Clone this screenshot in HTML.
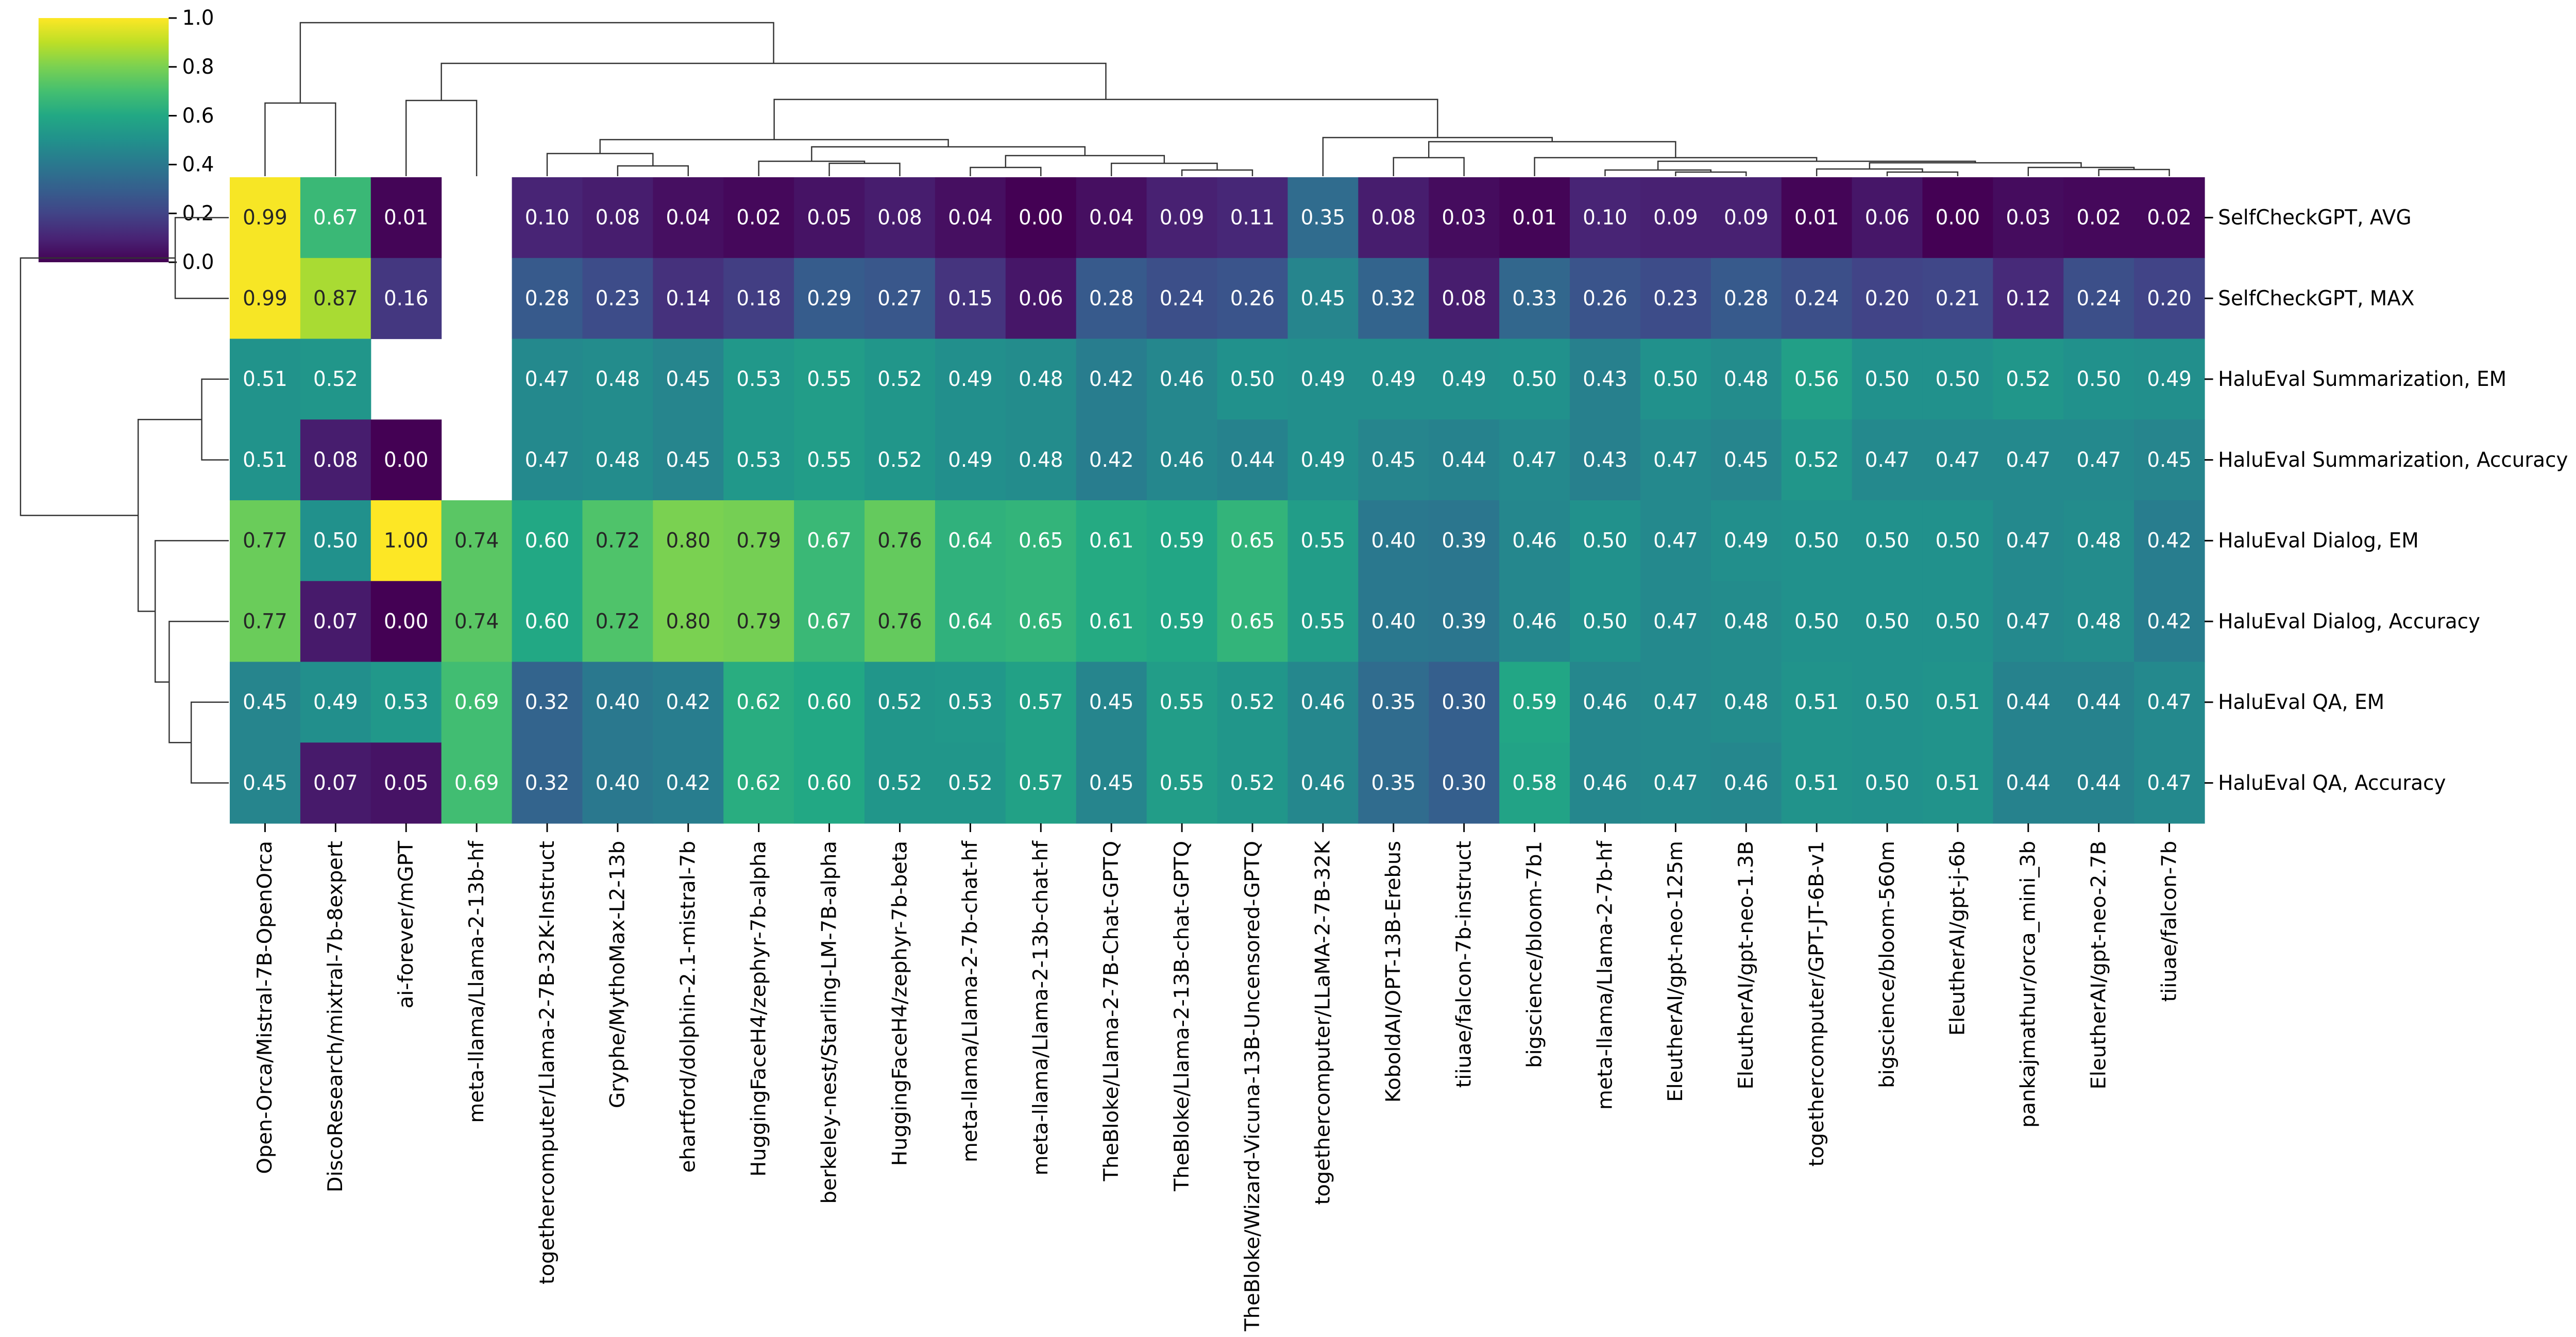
<!DOCTYPE html>
<html><head><meta charset="utf-8"><style>
html,body{margin:0;padding:0;background:#fff;overflow:hidden;width:100%;height:100%;}
svg{display:block;width:100vw;height:100vh;font-family:"DejaVu Sans","Liberation Sans",sans-serif;}
</style></head><body>
<svg id="chart" viewBox="0 0 5146 2595" preserveAspectRatio="none" xmlns="http://www.w3.org/2000/svg">
<defs>
<linearGradient id="vir" x1="0" y1="1" x2="0" y2="0">
<stop offset="0" stop-color="#440154"/><stop offset="0.1" stop-color="#482475"/><stop offset="0.2" stop-color="#414487"/><stop offset="0.3" stop-color="#355f8d"/><stop offset="0.4" stop-color="#2a788e"/><stop offset="0.5" stop-color="#21918c"/><stop offset="0.6" stop-color="#22a884"/><stop offset="0.7" stop-color="#44bf70"/><stop offset="0.8" stop-color="#7ad151"/><stop offset="0.9" stop-color="#bddf26"/><stop offset="1" stop-color="#fde725"/>
</linearGradient>
</defs>
<g id="cbar"></g>
<g id="coldend"></g>
<g id="rowdend"></g>
<g id="cells"></g>
<g id="xlabels"></g>
<g id="ylabels"></g>
</svg>
<script>
const models = ["Open-Orca/Mistral-7B-OpenOrca","DiscoResearch/mixtral-7b-8expert","ai-forever/mGPT","meta-llama/Llama-2-13b-hf","togethercomputer/Llama-2-7B-32K-Instruct","Gryphe/MythoMax-L2-13b","ehartford/dolphin-2.1-mistral-7b","HuggingFaceH4/zephyr-7b-alpha","berkeley-nest/Starling-LM-7B-alpha","HuggingFaceH4/zephyr-7b-beta","meta-llama/Llama-2-7b-chat-hf","meta-llama/Llama-2-13b-chat-hf","TheBloke/Llama-2-7B-Chat-GPTQ","TheBloke/Llama-2-13B-chat-GPTQ","TheBloke/Wizard-Vicuna-13B-Uncensored-GPTQ","togethercomputer/LLaMA-2-7B-32K","KoboldAI/OPT-13B-Erebus","tiiuae/falcon-7b-instruct","bigscience/bloom-7b1","meta-llama/Llama-2-7b-hf","EleutherAI/gpt-neo-125m","EleutherAI/gpt-neo-1.3B","togethercomputer/GPT-JT-6B-v1","bigscience/bloom-560m","EleutherAI/gpt-j-6b","pankajmathur/orca_mini_3b","EleutherAI/gpt-neo-2.7B","tiiuae/falcon-7b"];
const metrics = ["SelfCheckGPT, AVG","SelfCheckGPT, MAX","HaluEval Summarization, EM","HaluEval Summarization, Accuracy","HaluEval Dialog, EM","HaluEval Dialog, Accuracy","HaluEval QA, EM","HaluEval QA, Accuracy"];
const rowAvg = [0.99,0.67,0.01,null,0.10,0.08,0.04,0.02,0.05,0.08,0.04,0.00,0.04,0.09,0.11,0.35,0.08,0.03,0.01,0.10,0.09,0.09,0.01,0.06,0.00,0.03,0.02,0.02];
const rowMax = [0.99,0.87,0.16,null,0.28,0.23,0.14,0.18,0.29,0.27,0.15,0.06,0.28,0.24,0.26,0.45,0.32,0.08,0.33,0.26,0.23,0.28,0.24,0.20,0.21,0.12,0.24,0.20];
const rowSumEM = [0.51,0.52,null,null,0.47,0.48,0.45,0.53,0.55,0.52,0.49,0.48,0.42,0.46,0.50,0.49,0.49,0.49,0.50,0.43,0.50,0.48,0.56,0.50,0.50,0.52,0.50,0.49];
const rowSumAcc = [0.51,0.08,0.00,null,0.47,0.48,0.45,0.53,0.55,0.52,0.49,0.48,0.42,0.46,0.44,0.49,0.45,0.44,0.47,0.43,0.47,0.45,0.52,0.47,0.47,0.47,0.47,0.45];
const rowDiaEM = [0.77,0.50,1.00,0.74,0.60,0.72,0.80,0.79,0.67,0.76,0.64,0.65,0.61,0.59,0.65,0.55,0.40,0.39,0.46,0.50,0.47,0.49,0.50,0.50,0.50,0.47,0.48,0.42];
const rowDiaAcc = [0.77,0.07,0.00,0.74,0.60,0.72,0.80,0.79,0.67,0.76,0.64,0.65,0.61,0.59,0.65,0.55,0.40,0.39,0.46,0.50,0.47,0.48,0.50,0.50,0.50,0.47,0.48,0.42];
const rowQAEM = [0.45,0.49,0.53,0.69,0.32,0.40,0.42,0.62,0.60,0.52,0.53,0.57,0.45,0.55,0.52,0.46,0.35,0.30,0.59,0.46,0.47,0.48,0.51,0.50,0.51,0.44,0.44,0.47];
const rowQAAcc = [0.45,0.07,0.05,0.69,0.32,0.40,0.42,0.62,0.60,0.52,0.52,0.57,0.45,0.55,0.52,0.46,0.35,0.30,0.58,0.46,0.47,0.46,0.51,0.50,0.51,0.44,0.44,0.47];
const cbTicks = [0.0,0.2,0.4,0.6,0.8,1.0];
// dendrogram linkage: [left, right, height]; leaves "c#"/"r#", internal = link index
const colLinks = [["c10","c11",325],["c13","c14",330],["c12",1,317],[0,2,302],["c8","c9",317],["c7",4,313],[5,3,285],["c5","c6",322],["c4",7,298],[8,6,271],["c20","c21",334],["c19",10,330],["c23","c24",334],["c22",12,328],["c26","c27",329],["c25",14,325],[13,15,316],[11,16,313],["c18",17,306],["c16","c17",306],[19,18,275],["c15",20,267],[9,21,193],["c2","c3",195],[23,22,123],["c0","c1",200],[25,24,44]];
const rowLinks = [["r0","r1",350],["r2","r3",403],["r6","r7",382],["r5",2,338],["r4",3,310],[1,4,276],[0,5,41]];

const data = [rowAvg,rowMax,rowSumEM,rowSumAcc,rowDiaEM,rowDiaAcc,rowQAEM,rowQAAcc];
const NS="http://www.w3.org/2000/svg";
const X0=459,X1=4404,Y0=344,Y1=1598;
const cw=(X1-X0)/models.length, rh=(Y1-Y0)/metrics.length;
const xc=i=>X0+(i+0.5)*cw, yc=j=>Y0+(j+0.5)*rh;
const stops=["#440154","#482475","#414487","#355f8d","#2a788e","#21918c","#22a884","#44bf70","#7ad151","#bddf26","#fde725"].map(h=>[1,3,5].map(k=>parseInt(h.substr(k,2),16)));
function vir(v){v=Math.max(0,Math.min(1,v));const t=v*10,i=Math.min(9,Math.floor(t)),f=t-i;return stops[i].map((c,k)=>Math.round(c+(stops[i+1][k]-c)*f));}
function lum(c){const l=c.map(x=>{x/=255;return x<=0.03928?x/12.92:Math.pow((x+0.055)/1.055,2.4);});return 0.2126*l[0]+0.7152*l[1]+0.0722*l[2];}
function mk(tag,attrs,parent){const e=document.createElementNS(NS,tag);for(const k in attrs)e.setAttribute(k,attrs[k]);parent.appendChild(e);return e;}

const cells=document.getElementById('cells');
data.forEach((row,j)=>row.forEach((v,i)=>{
  if(v===null)return;
  const c=vir(v);
  const r=mk('rect',{x:X0+i*cw,y:Y0+j*rh,width:cw+0.6,height:rh+0.6,fill:`rgb(${c})`},cells);
  
  
  const t=mk('text',{x:xc(i),y:yc(j),'text-anchor':'middle','dominant-baseline':'central','font-size':40,fill:lum(c)>0.408?'#262626':'#ffffff'},cells);
  
  
  t.textContent=v.toFixed(2);
}));

const xl=document.getElementById('xlabels');
models.forEach((m,i)=>{
  mk('line',{x1:xc(i),y1:Y1,x2:xc(i),y2:Y1+17,stroke:'#000','stroke-width':3},xl);
  const t=mk('text',{transform:`translate(${xc(i)},1632) rotate(-90)`,'text-anchor':'end','dominant-baseline':'central','font-size':40,fill:'#000'},xl);
  
  
  t.textContent=m;
});
const yl=document.getElementById('ylabels');
metrics.forEach((m,j)=>{
  mk('line',{x1:X1,y1:yc(j),x2:X1+17,y2:yc(j),stroke:'#000','stroke-width':3},yl);
  const t=mk('text',{x:4431,y:yc(j),'dominant-baseline':'central','font-size':40,fill:'#000'},yl);
  
  
  t.textContent=m;
});

const cd=document.getElementById('coldend');
const colPos=[];
function cpos(n){if(typeof n==='string')return [xc(+n.slice(1)),342];return colPos[n];}
colLinks.forEach((L,k)=>{
  const a=cpos(L[0]),b=cpos(L[1]),h=L[2];
  const p=mk('path',{d:`M${a[0]},${a[1]}V${h}H${b[0]}V${b[1]}`,fill:'none',stroke:'#333','stroke-width':2.5},cd);
  
  
  colPos[k]=[(a[0]+b[0])/2,h];
});
const rd=document.getElementById('rowdend');
const rowPos=[];
function rpos(n){if(typeof n==='string')return [457,yc(+n.slice(1))];return rowPos[n];}
rowLinks.forEach((L,k)=>{
  const a=rpos(L[0]),b=rpos(L[1]),h=L[2];
  const p=mk('path',{d:`M${a[0]},${a[1]}H${h}V${b[1]}H${b[0]}`,fill:'none',stroke:'#333','stroke-width':2.5},rd);
  
  
  rowPos[k]=[h,(a[1]+b[1])/2];
});
const cb=document.getElementById('cbar');
const CB={x:77,y0:35,y1:509,w:260};
const cr=mk('rect',{x:CB.x,y:CB.y0,width:CB.w,height:CB.y1-CB.y0,fill:'url(#vir)'},cb);


cbTicks.forEach(v=>{
  const y=CB.y1-(CB.y1-CB.y0)*v;
  mk('line',{x1:CB.x+CB.w,y1:y,x2:CB.x+CB.w+16,y2:y,stroke:'#000','stroke-width':3},cb);
  const t=mk('text',{x:CB.x+CB.w+27,y:y,'dominant-baseline':'central','font-size':40,fill:'#000'},cb);
  
  
  t.textContent=v.toFixed(1);
});
</script>
</body></html>
